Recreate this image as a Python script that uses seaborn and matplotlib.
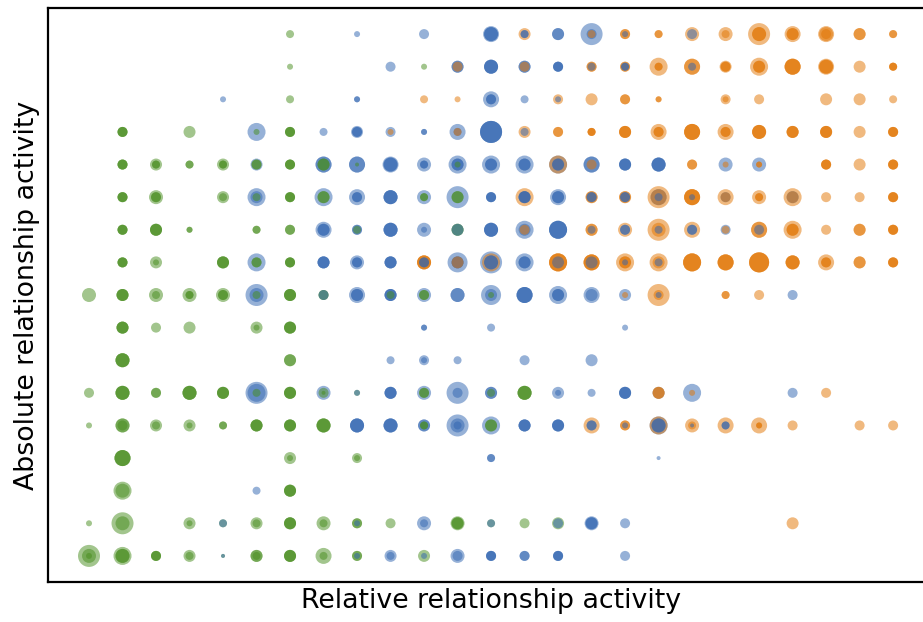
import numpy as np
import pandas as pd
import matplotlib
matplotlib.use("Agg")
import matplotlib.pyplot as plt
import seaborn as sns

# grid rows top -> bottom, "col:stack", each char of stack is one stacked
# circle (outer -> inner), value = radius in px (hex, a=10, b=11)
green_cells = [
    "6:4",
    "6:3 10:3",
    "6:4",
    "1:555 3:6 5:3 6:555",
    "1:555 2:644 3:44 4:644 5:55 6:555 7:66 8:2 11:3",
    "1:555 2:755 4:64 5:4 6:555 7:66 10:44 11:66",
    "1:555 2:666 3:33 5:44 6:55 8:4 11:66",
    "1:555 2:63 4:666 5:55 6:555",
    "0:7 1:666 2:74 3:744 4:755 5:4 6:666 7:55 9:4 10:55 12:3",
    "1:666 2:5 3:6 5:63 6:666",
    "1:777 6:66",
    "0:5 1:777 2:55 3:777 4:666 5:4 6:666 7:52 8:3 10:55 12:4 13:777",
    "0:3 1:775 2:64 3:63 4:44 5:666 6:666 7:777 10:44 12:66",
    "1:888 6:63 8:53",
    "1:97 6:666",
    "0:3 1:b7 3:63 4:4 5:64 6:666 7:74 8:55 9:5 11:766 12:4 13:5 14:6",
    "0:b73 1:977 2:555 3:64 4:2 5:664 6:666 7:84 8:55 10:6",
]

blue_cells = [
    "8:3 10:5 12:877 13:44 14:66 15:b5 16:3 18:5",
    "9:5 11:66 12:777 13:66 14:555 15:4 16:44 18:4",
    "4:3 8:33 12:855 13:4 14:3",
    "5:9 7:4 8:655 9:5 10:33 11:84 12:bbb 13:4",
    "5:6 7:88 8:88 9:877 10:744 11:966 12:966 13:966 14:966 15:88 16:666 17:777 19:7 20:7",
    "5:96 7:9 8:855 9:777 10:7 11:b 12:555 13:666 14:866 15:55 16:55 17:84 18:3 19:5 21:6",
    "7:866 8:55 9:777 10:73 11:6 12:777 13:96 14:999 15:4 16:55 17:4 18:55 19:5 20:5",
    "5:9 7:666 8:755 9:666 10:55 11:a66 12:b77 13:966 14:6 15:6 16:3 17:4",
    "5:b7 7:5 8:866 9:666 10:7 11:77 12:a6 13:888 14:966 15:86 16:6 17:3 21:5",
    "10:33 12:4 16:3",
    "9:4 10:53 11:4 13:5 15:6",
    "5:b9 7:7 8:3 9:666 10:7 11:b5 12:66 14:63 15:4 16:666 17:6 18:9 21:5",
    "8:777 9:777 10:66 11:b74 12:9 13:666 14:666 15:55 16:3 17:977 18:2 19:44",
    "12:44 17:2",
    "5:4",
    "4:4 8:3 10:74 12:4 14:5 15:766 16:5",
    "4:2 8:3 9:64 10:3 11:75 12:555 13:55 14:555 16:5",
]

orange_cells = [
    "13:6 15:4 16:55 17:44 18:7 19:74 20:b77 21:866 22:875 23:66 24:44",
    "11:5 13:5 15:55 16:55 17:944 18:88 19:655 20:966 21:888 22:877 23:6 24:444",
    "10:4 11:3 14:5 15:6 16:55 17:33 19:53 20:5 22:6 23:6 24:4",
    "9:3 11:4 13:6 14:55 15:444 16:666 17:855 18:888 19:855 20:777 21:666 22:666 23:6 24:555",
    "14:9 15:5 18:55 19:3 20:33 22:555 23:6 24:555",
    "13:9 15:66 16:66 17:b8 18:888 19:85 20:744 21:96 22:5 23:5 24:555",
    "13:5 15:66 16:7 17:b7 18:8 19:4 20:88 21:966 22:5 23:66 24:555",
    "10:777 11:6 12:9 14:999 15:888 16:966 17:96 18:999 19:888 20:aaa 21:777 22:855 23:66 24:555",
    "16:3 17:b5 19:44 20:5",
    "",
    "",
    "17:66 18:3 22:5",
    "15:8 16:55 17:9 18:74 19:8 20:833 21:5 23:5 24:5",
    "",
    "",
    "21:6",
    "",
]

palette = {"green": "#468c1c", "blue": "#2f64b0", "orange": "#e27400"}


def cells_to_frame(rows, name):
    recs = []
    n = len(rows)
    for i, row in enumerate(rows):
        for tok in row.split():
            col, stack = tok.split(":")
            for ch in stack:
                recs.append((int(col), n - 1 - i, int(ch, 16), name))
    return pd.DataFrame(recs, columns=["x", "y", "radius", "group"])


df = pd.concat([cells_to_frame(green_cells, "green"),
                cells_to_frame(blue_cells, "blue"),
                cells_to_frame(orange_cells, "orange")], ignore_index=True)
# radius px -> marker area in pt^2 (dpi 100)
df["area"] = (df["radius"] * 2 * 0.72) ** 2
df = df.sort_values("radius", ascending=False, kind="stable")
amax = df["area"].max()

sns.set_style("white")
fig = plt.figure(figsize=(9.23, 6.22), dpi=100)
ax = fig.add_axes([48 / 923, 40 / 622, (935 - 48) / 923, 574 / 622])

sns.scatterplot(data=df, x="x", y="y", hue="group", palette=palette,
                size="area", sizes=(0, amax), size_norm=(0, amax),
                alpha=0.5, linewidth=0, legend=False, ax=ax)

ax.set_xlim(-1.224, 25.25)
ax.set_ylim(-0.8, 16.8)
ax.set_xticks([])
ax.set_yticks([])
for sp in ax.spines.values():
    sp.set_color("black")
    sp.set_linewidth(1.6)
ax.set_xlabel("Relative relationship activity", fontsize=19.3, color="black", labelpad=4)
ax.set_ylabel("Absolute relationship activity", fontsize=19.3, color="black", labelpad=6)

fig.savefig("out.png", dpi=100)
